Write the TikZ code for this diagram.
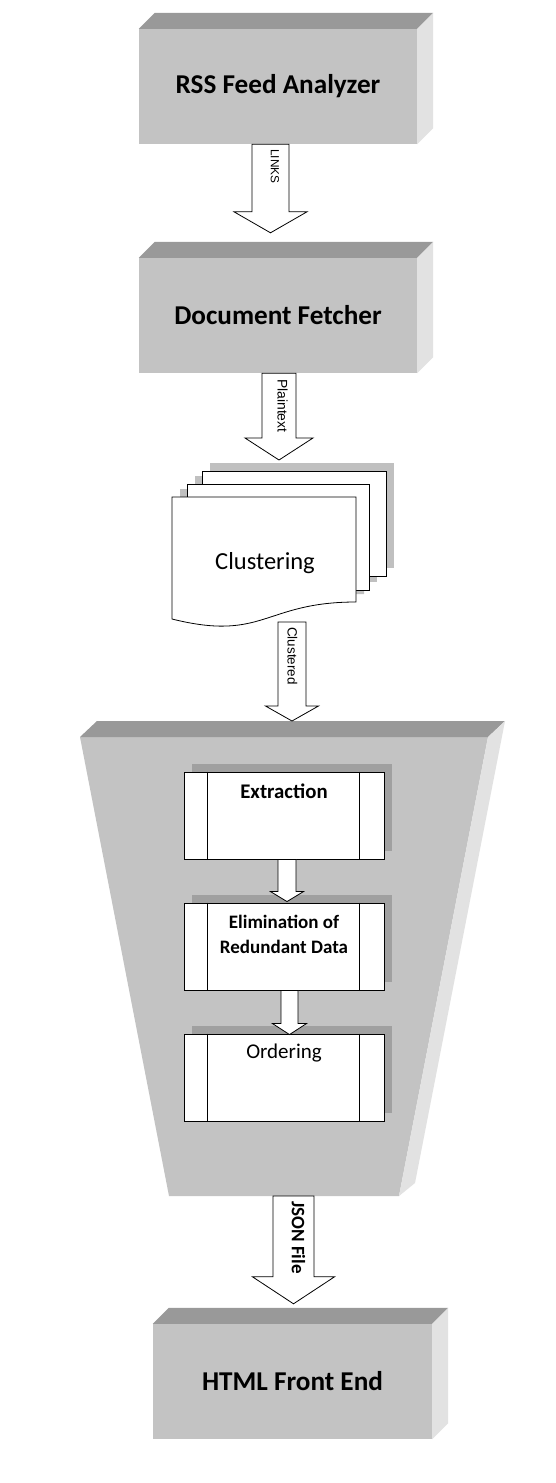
\documentclass[tikz,border=0pt]{standalone}
\usepackage{fontspec}
\setmainfont{Carlito}
\newfontfamily\arialf{Liberation Sans}
\usetikzlibrary{calc,shadows}
\definecolor{frontgray}{RGB}{195,195,195}
\definecolor{topgray}{RGB}{153,153,153}
\definecolor{sidegray}{RGB}{226,226,226}
\definecolor{shadowgray}{RGB}{160,160,160}
\definecolor{docshadow}{RGB}{192,192,192}
\tikzset{
  cubefront/.style={rectangle, fill=frontgray, draw=none, inner sep=0pt,
    font=\bfseries\fontsize{27.2}{31}\selectfont},
  topface/.style={fill=topgray},
  sideface/.style={fill=sidegray},
  procbox/.style={rectangle, draw=black, fill=white, line width=0.9pt,
    minimum width=200pt, minimum height=87pt, inner sep=0pt,
    general shadow={fill=shadowgray, shadow xshift=8pt, shadow yshift=8pt}},
  proctext/.style={inner sep=0pt, align=center, font=\fontsize{21}{25}\selectfont},
  barrow/.style={draw=black, fill=white, line width=0.8pt, line join=miter},
  flowlabel/.style={rotate=-90, anchor=west, inner sep=0pt,
    font=\arialf\fontsize{13.4}{15}\selectfont},
  pagestyle/.style={draw=black, fill=white, line width=0.8pt},
}
\newcommand{\cubebox}[1]{%
  \fill[topface] (#1.north west) -- ++(16,-16) -- ($(#1.north east)+(16,-16)$) -- (#1.north east) -- cycle;
  \fill[sideface] (#1.north east) -- ++(16,-16) -- ($(#1.south east)+(16,-16)$) -- (#1.south east) -- cycle;}
\newcommand{\blockarrow}[5]{%
  \draw[barrow] let \p1=(#1), \p2=(#2) in
   (\x1-#3pt,\y1) -- (\x1-#3pt,\y2+#5pt) -- (\x1-#4pt,\y2+#5pt) -- (\x1,\y2)
   -- (\x1+#4pt,\y2+#5pt) -- (\x1+#3pt,\y2+#5pt) -- (\x1+#3pt,\y1) -- cycle;}
\newcommand{\procsides}[1]{%
  \draw[line width=0.9pt] ($(#1.north west)+(24,0)$) -- ($(#1.south west)+(24,0)$);
  \draw[line width=0.9pt] ($(#1.north east)+(-25,0)$) -- ($(#1.south east)+(-25,0)$);}
\begin{document}
\begin{tikzpicture}[x=1pt,y=-1pt]
\fill[white] (0,0) rectangle (555,1483);
\useasboundingbox (0,0) rectangle (555,1483);

% RSS Feed Analyzer
\node[cubefront, minimum width=278pt, minimum height=115pt] (rss) at (278,86.5) {RSS Feed Analyzer};
\cubebox{rss}

% Document Fetcher
\node[cubefront, minimum width=278pt, minimum height=115pt] (doc) at (278,315.5) {Document Fetcher};
\cubebox{doc}

% LINKS arrow
\coordinate (a1s) at ($(rss.south)+(-7.5,0)$);
\coordinate (a1t) at ($(doc.north)+(-7.5,-25)$);
\blockarrow{a1s}{a1t}{18.5}{36.5}{21}
\node[flowlabel, font=\arialf\fontsize{11.8}{13}\selectfont] (l1) at (275,149) {LINKS};

% Clustering multi-document
\fill[docshadow] (210,463) rectangle (394,568);
\fill[docshadow] (195,476) rectangle (377,582);
\fill[docshadow] (180,489) -- (364,489) -- (364,594) .. controls (272,594) and (272,634) .. (180,611) -- cycle;
\draw[pagestyle] (202,471) rectangle (386,576);
\draw[pagestyle] (187,484) rectangle (369,590);
\draw[pagestyle] (172,497) -- (356,497) -- (356,602) .. controls (264,602) and (264,642) .. (172,619) -- cycle;
\node[inner sep=0pt, font=\fontsize{24.5}{28}\selectfont] (clust) at (265,563) {Clustering};

% Plaintext arrow
\coordinate (a2s) at ($(doc.south)+(1,0)$);
\coordinate (a2t) at (279,460);
\blockarrow{a2s}{a2t}{17}{34}{22}
\node[flowlabel, font=\arialf\fontsize{13.9}{15}\selectfont] (l2) at (282.5,379) {Plaintext};

% Processing trapezoid
\fill[frontgray] (80,737) -- (488,737) -- (399,1196) -- (169,1196) -- cycle;
\fill[topgray] (80,737) -- (97,721) -- (505,721) -- (488,737) -- cycle;
\fill[sidegray] (488,737) -- (505,721) -- (415,1183) -- (399,1196) -- cycle;
\coordinate (proctop) at (292,721);
\coordinate (procbot) at (293.5,1196);

% Clustered arrow
\coordinate (a3s) at (292,622);
\blockarrow{a3s}{proctop}{14}{26.5}{15}
\node[flowlabel] (l3) at (292.5,627) {Clustered};

% inner process boxes
\node[procbox] (ext) at (284,815.5) {};
\procsides{ext}
\node[proctext, font=\bfseries\fontsize{20.8}{25}\selectfont] (extt) at (284,791) {Extraction};

\node[procbox] (elim) at (284,946.5) {};
\procsides{elim}
\node[proctext, font=\bfseries\fontsize{19}{25}\selectfont] (elimt) at (284,934.5) {Elimination of\\Redundant Data};

\node[procbox] (ord) at (284,1077.5) {};
\procsides{ord}
\node[proctext] (ordt) at (284,1053) {Ordering};

\coordinate (a4s) at ($(ext.south)+(3,0)$);
\coordinate (a4t) at ($(elim.north)+(3,-1)$);
\blockarrow{a4s}{a4t}{9}{16.5}{10}
\coordinate (a5s) at ($(elim.south)+(5.5,0)$);
\coordinate (a5t) at ($(ord.north)+(5.5,1)$);
\blockarrow{a5s}{a5t}{8.5}{17}{11}

% HTML Front End
\node[cubefront, minimum width=279pt, minimum height=115pt] (html) at (292.5,1381.5) {HTML Front End};
\cubebox{html}

% JSON arrow
\coordinate (a6t) at ($(html.north)+(1,-20)$);
\blockarrow{procbot}{a6t}{20.5}{41}{27}
\node[flowlabel, font=\bfseries\fontsize{19}{22}\selectfont] (l6) at (298.5,1201) {JSON File};
\end{tikzpicture}
\end{document}
